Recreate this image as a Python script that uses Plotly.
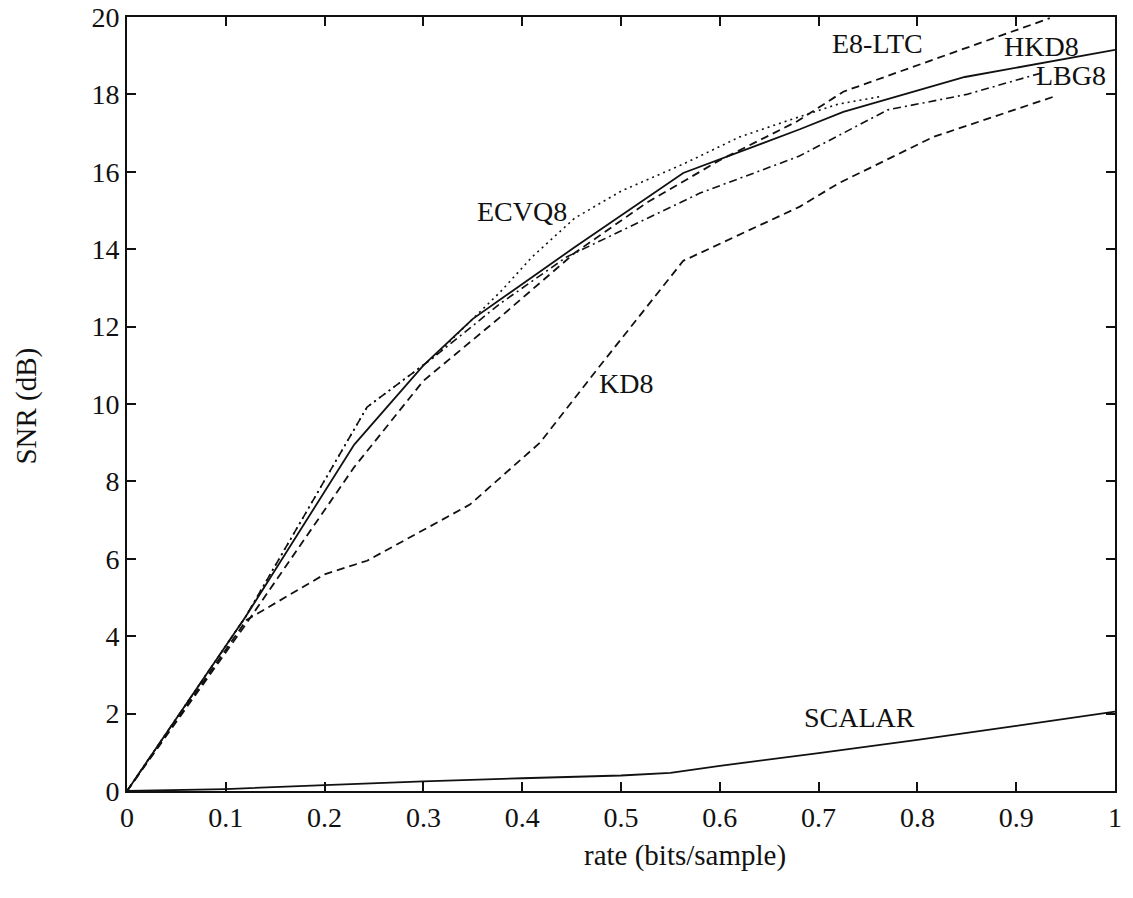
import plotly.graph_objects as go

# rate (bits/sample) and SNR (dB)
hkd8_x = [0, 0.12, 0.23, 0.30, 0.35, 0.40, 0.453, 0.563, 0.681, 0.725, 0.848, 1.0]
hkd8_y = [0, 4.5, 8.95, 11.0, 12.2, 13.1, 14.05, 15.97, 17.1, 17.55, 18.45, 19.15]

e8_x = [0, 0.12, 0.23, 0.30, 0.378, 0.453, 0.526, 0.60, 0.678, 0.725, 0.934]
e8_y = [0, 4.3, 8.37, 10.6, 12.25, 13.9, 15.2, 16.3, 17.3, 18.07, 19.97]

lbg8_x = [0, 0.12, 0.243, 0.31, 0.378, 0.445, 0.58, 0.68, 0.77, 0.85, 0.925]
lbg8_y = [0, 4.5, 9.92, 11.2, 12.6, 13.8, 15.45, 16.4, 17.6, 18.0, 18.55]

ecvq8_x = [0, 0.12, 0.243, 0.31, 0.378, 0.41, 0.453, 0.50, 0.563, 0.62, 0.678, 0.72, 0.764]
ecvq8_y = [0, 4.5, 9.92, 11.2, 12.9, 13.8, 14.8, 15.5, 16.2, 16.9, 17.4, 17.75, 17.95]

kd8_x = [0, 0.121, 0.2, 0.243, 0.347, 0.418, 0.476, 0.563, 0.681, 0.72, 0.816, 0.939]
kd8_y = [0, 4.42, 5.6, 5.95, 7.4, 9.0, 10.9, 13.7, 15.1, 15.7, 16.9, 17.95]

scalar_x = [0, 0.1, 0.2, 0.3, 0.4, 0.5, 0.55, 0.6, 0.7, 0.8, 0.9, 1.0]
scalar_y = [0, 0.05, 0.15, 0.25, 0.33, 0.4, 0.47, 0.65, 0.98, 1.32, 1.68, 2.05]

labels = ["E8-LTC", "HKD8", "LBG8", "ECVQ8", "KD8", "SCALAR"]
label_x = [0.76, 0.926, 0.955, 0.40, 0.505, 0.741]
label_y = [19.32, 19.25, 18.5, 14.97, 10.52, 1.9]

x_ticks = [0, 0.1, 0.2, 0.3, 0.4, 0.5, 0.6, 0.7, 0.8, 0.9, 1]
x_tick_text = ["0", "0.1", "0.2", "0.3", "0.4", "0.5", "0.6", "0.7", "0.8", "0.9", "1"]
y_ticks = [0, 2, 4, 6, 8, 10, 12, 14, 16, 18, 20]

x_title = "rate (bits/sample)"
y_title = "SNR (dB)"

FONT = "Liberation Serif"
BLACK = "#111111"

fig = go.Figure()
fig.add_trace(go.Scatter(x=hkd8_x, y=hkd8_y, mode="lines",
                         line=dict(color=BLACK, width=1.8)))
fig.add_trace(go.Scatter(x=e8_x, y=e8_y, mode="lines",
                         line=dict(color=BLACK, width=1.8, dash="8px,5px")))
fig.add_trace(go.Scatter(x=lbg8_x, y=lbg8_y, mode="lines",
                         line=dict(color=BLACK, width=1.6, dash="8px,4px,2px,4px")))
fig.add_trace(go.Scatter(x=ecvq8_x, y=ecvq8_y, mode="lines",
                         line=dict(color=BLACK, width=1.6, dash="2px,4px")))
fig.add_trace(go.Scatter(x=kd8_x, y=kd8_y, mode="lines",
                         line=dict(color=BLACK, width=1.8, dash="8px,5px")))
fig.add_trace(go.Scatter(x=scalar_x, y=scalar_y, mode="lines",
                         line=dict(color=BLACK, width=1.8)))

for t, xx, yy in zip(labels, label_x, label_y):
    fig.add_annotation(x=xx, y=yy, text=t, showarrow=False,
                       font=dict(family=FONT, size=28, color=BLACK),
                       xanchor="center", yanchor="middle")

fig.add_annotation(x=0.565, y=-0.083, xref="paper", yref="paper", text=x_title,
                   showarrow=False, xanchor="center", yanchor="middle",
                   font=dict(family=FONT, size=29, color=BLACK))
fig.add_annotation(x=-0.102, y=0.497, xref="paper", yref="paper", text=y_title,
                   showarrow=False, xanchor="center", yanchor="middle", textangle=-90,
                   font=dict(family=FONT, size=29, color=BLACK))

axis_common = dict(showgrid=False, zeroline=False, showline=True, linecolor=BLACK,
                   linewidth=2, mirror="ticks", ticks="inside", ticklen=9,
                   tickwidth=1.5, tickcolor=BLACK, automargin=False,
                   tickfont=dict(family=FONT, size=28, color=BLACK))

fig.update_xaxes(range=[0, 1], tickvals=x_ticks, ticktext=x_tick_text, **axis_common)
fig.update_yaxes(range=[0, 20], tickvals=y_ticks, **axis_common)

fig.update_layout(width=1133, height=898, showlegend=False,
                  paper_bgcolor="white", plot_bgcolor="white",
                  margin=dict(l=127, r=18, t=17, b=107))

fig.write_html("out.html")
